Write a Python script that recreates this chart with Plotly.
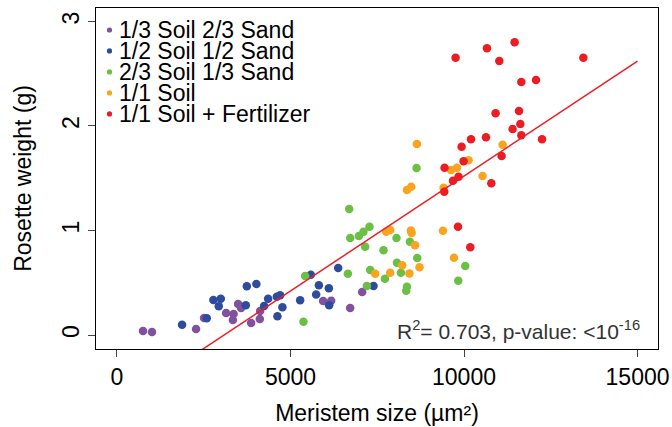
import plotly.graph_objects as go

# ---- data ----
series_names = ["1/3 Soil 2/3 Sand", "1/2 Soil 1/2 Sand", "2/3 Soil 1/3 Sand",
                "1/1 Soil", "1/1 Soil + Fertilizer"]
series_colors = ["#8150A0", "#2E4C9E", "#6CBF45", "#F8A41E", "#EC1C24"]

soil13_x = [750, 1009, 2278, 2509, 3144, 3340, 3360, 3490, 3576, 3865, 4124, 4115,
            5941, 6172, 6720, 7066]
soil13_y = [0.038, 0.029, 0.057, 0.163, 0.211, 0.144, 0.201, 0.297, 0.258, 0.115, 0.230, 0.153,
            0.325, 0.328, 0.258, 0.411]

soil12_x = [1875, 2587, 2777, 2991, 2933, 3741, 4017, 3712, 4239, 4355, 4606, 4701,
            4767, 4623, 5278, 5586, 5817, 5739, 6105, 6114, 6374, 7392]
soil12_y = [0.099, 0.160, 0.335, 0.347, 0.275, 0.466, 0.488, 0.284, 0.278, 0.347, 0.367, 0.380,
            0.265, 0.179, 0.332, 0.577, 0.476, 0.388, 0.447, 0.284, 0.641, 0.469]

soil23_x = [5373, 5422, 6691, 6720, 6971, 7103, 7276, 7152, 6653, 7297, 7201, 7680,
            7721, 8055, 8067, 8182, 8355, 8335, 8441, 8632, 8652, 9834, 10036]
soil23_y = [0.127, 0.565, 1.206, 0.928, 0.947, 0.989, 1.036, 0.845, 0.587, 0.622, 0.469, 0.811,
            0.539, 0.928, 0.692, 0.596, 0.462, 0.424, 0.893, 1.598, 0.737, 0.520, 0.660]

soil11_x = [8643, 8355, 8479, 9411, 9624, 9797, 10131, 10535, 11112, 7758, 7873, 8470,
            8490, 9393, 8589, 9710, 8219, 8718, 8427, 7873, 7441]
soil11_y = [1.828, 1.388, 1.419, 1.410, 1.579, 1.601, 1.672, 1.522, 1.821, 0.989, 1.005, 1.000,
            0.975, 0.998, 0.859, 0.739, 0.667, 0.648, 0.589, 0.596, 0.587]

fert_x = [9757, 10662, 11017, 11458, 13439, 11651, 12075, 10910, 11585, 11400, 11623, 11651,
          12248, 10201, 10633, 9930, 9987, 11083, 9439, 9843, 9682, 10786, 9431, 9826, 10181]
fert_y = [2.654, 2.744, 2.622, 2.801, 2.654, 2.421, 2.440, 2.122, 2.144, 1.971, 2.019, 1.911,
          1.873, 1.873, 1.892, 1.802, 1.662, 1.713, 1.601, 1.515, 1.477, 1.452, 1.371, 1.036, 0.839]

fit_slope = 0.00022
fit_intercept = -0.679
fit_x = [0, 15000]

x_ticks = [0, 5000, 10000, 15000]
x_ticktext = ["0", "5000", "10000", "15000"]
y_ticks = [0, 1, 2, 3]

annotation_text = "R<sup>2</sup>= 0.703, p-value: &lt;10<sup>-16</sup>"

# ---- figure ----
all_x = [soil13_x, soil12_x, soil23_x, soil11_x, fert_x]
all_y = [soil13_y, soil12_y, soil23_y, soil11_y, fert_y]

font_family = "Liberation Sans, Arial, sans-serif"

fig = go.Figure()
for xs, ys, name, col in zip(all_x, all_y, series_names, series_colors):
    fig.add_trace(go.Scatter(x=xs, y=ys, mode="markers", name=name, showlegend=False,
                             marker=dict(size=8.5, color=col, line=dict(width=0))))

fig.add_trace(go.Scatter(x=fit_x, y=[fit_intercept + fit_slope * v for v in fit_x],
                         mode="lines", line=dict(color="#EE1C24", width=1.5),
                         showlegend=False, hoverinfo="skip"))

# compact legend (R-style): small dots + text, inside the top-left of the box
leg_x_dot = 0.024
leg_x_text = 0.037
leg_y0 = 0.9355
leg_dy = 0.0615
for i, (name, col) in enumerate(zip(series_names, series_colors)):
    yy = leg_y0 - i * leg_dy
    fig.add_shape(type="circle", xref="paper", yref="paper",
                  xsizemode="pixel", ysizemode="pixel",
                  xanchor=leg_x_dot, yanchor=yy, x0=-2.6, x1=2.6, y0=-2.6, y1=2.6,
                  fillcolor=col, line=dict(width=0))
    fig.add_annotation(text=name, xref="paper", yref="paper", x=leg_x_text, y=yy,
                       xanchor="left", yanchor="middle", showarrow=False,
                       font=dict(size=23, color="black", family=font_family))

fig.update_layout(
    width=672, height=427,
    margin=dict(l=96, r=14, t=8, b=78),
    paper_bgcolor="white", plot_bgcolor="white",
    font=dict(family=font_family, size=23, color="black"),
    showlegend=False,
    xaxis=dict(range=[-605, 15590], tickvals=x_ticks, ticktext=x_ticktext,
               ticks="outside", ticklen=7, automargin=False,
               showline=True, linecolor="black", linewidth=1, mirror=True,
               showgrid=False, zeroline=False, tickfont=dict(size=23),
               title=dict(text="Meristem size (µm²)", font=dict(size=23), standoff=16)),
    yaxis=dict(range=[-0.134, 3.129], tickvals=y_ticks, ticks="outside", ticklen=7,
               tickangle=-90, automargin=False,
               showline=True, linecolor="black", linewidth=1, mirror=True,
               showgrid=False, zeroline=False, tickfont=dict(size=23),
               title=dict(text="Rosette weight (g)", font=dict(size=23), standoff=19)),
)
fig.add_annotation(text=annotation_text, xref="paper", yref="paper",
                   x=0.9715, y=0.0557, xanchor="right", yanchor="middle",
                   showarrow=False, font=dict(size=21, color="#333333", family=font_family))

fig.write_html("out.html", config={"displayModeBar": False},
               post_script="document.body.style.margin='0';document.body.style.overflow='hidden';")
